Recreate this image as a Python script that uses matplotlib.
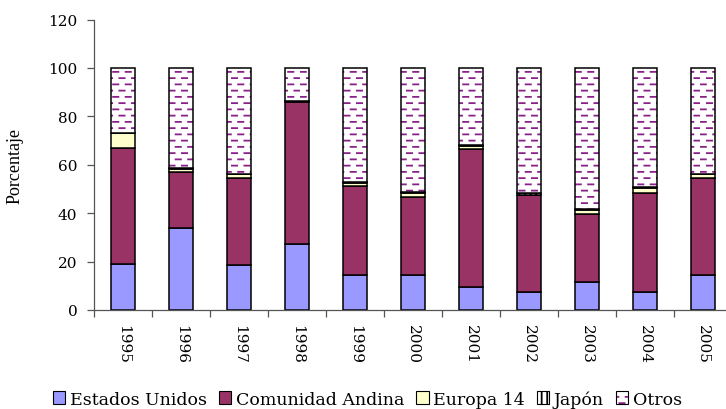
import warnings

import numpy as np
import matplotlib
matplotlib.use("Agg")
import matplotlib.pyplot as plt
import matplotlib.hatch as mhatch
from matplotlib.path import Path
from matplotlib.patches import Patch
from matplotlib.legend_handler import HandlerTuple

warnings.filterwarnings("ignore", category=matplotlib.MatplotlibDeprecationWarning)

years = ["1995", "1996", "1997", "1998", "1999", "2000",
         "2001", "2002", "2003", "2004", "2005"]
estados_unidos = [19.2, 34.0, 18.7, 27.4, 14.5, 14.5, 9.5, 7.6, 11.5, 7.6, 14.5]
comunidad_andina = [47.6, 23.2, 35.8, 58.6, 36.7, 32.1, 56.9, 39.8, 28.3, 40.8, 40.1]
europa_14 = [6.2, 1.2, 1.5, 0.3, 1.1, 1.8, 1.4, 0.3, 1.7, 2.1, 1.4]
japon = [0.3, 0.4, 0.3, 0.2, 0.6, 0.3, 0.3, 0.5, 0.3, 0.3, 0.4]
otros = [26.7, 41.2, 43.7, 13.5, 47.1, 51.3, 31.9, 51.8, 58.2, 49.2, 43.6]

C_US = "#9999FF"
C_CA = "#993366"
C_EU = "#FFFFCC"
C_DASH = "#882288"


# staggered short dashes, like the old spreadsheet fill pattern
class DashHatch(mhatch.HatchPatternBase):
    def __init__(self, hatch, density):
        self.rows = 16 if "d" in hatch else 0
        self.cols = 8
        self.num_vertices = self.rows * self.cols * 2

    def set_vertices_and_codes(self, vertices, codes):
        k = 0
        for r in range(self.rows):
            y = (r + 0.5) / self.rows
            off = 0.5 if r % 2 else 0.0
            for c in range(self.cols):
                x0 = (c + off + 0.05) / self.cols
                vertices[k] = (x0, y)
                vertices[k + 1] = (x0 + 0.42 / self.cols, y)
                codes[k] = Path.MOVETO
                codes[k + 1] = Path.LINETO
                k += 2


mhatch._hatch_types.append(DashHatch)
plt.rcParams["hatch.linewidth"] = 1.3

fig = plt.figure(figsize=(7.26, 4.10), dpi=100)
ax = fig.add_axes([94 / 726, 1 - 311 / 410, (732 - 94) / 726, (311 - 20.6) / 410])

x = np.arange(len(years))
w = 0.41
ekw = dict(edgecolor="black", linewidth=1.1)
bottom = np.zeros(len(years))
ax.bar(x, estados_unidos, w, bottom=bottom, color=C_US, **ekw)
bottom += estados_unidos
ax.bar(x, comunidad_andina, w, bottom=bottom, color=C_CA, **ekw)
bottom += comunidad_andina
ax.bar(x, europa_14, w, bottom=bottom, color=C_EU, **ekw)
bottom += europa_14
ax.bar(x, japon, w, bottom=bottom, color="white", hatch="|||", **ekw)
bottom += japon
ax.bar(x, otros, w, bottom=bottom, color="white", edgecolor=C_DASH,
       linewidth=0, hatch="d")
ax.bar(x, otros, w, bottom=bottom, fill=False, **ekw)

ax.set_xlim(-0.5, len(years) - 0.5)
ax.set_ylim(0, 120)
ax.set_yticks(range(0, 121, 20))
ax.set_xticks(x)
ax.set_xticklabels(years, rotation=270, ha="center", va="top",
                   family="DejaVu Serif", fontsize=11)
ax.set_xticks(np.arange(-0.5, len(years), 1.0), minor=True)
ax.tick_params(axis="x", which="major", length=0, pad=10)
ax.tick_params(axis="x", which="minor", length=5, width=0.9, color="#555555",
               direction="out")
ax.tick_params(axis="y", length=5, width=0.9, color="#555555", pad=7)
for t in ax.get_yticklabels():
    t.set_family("DejaVu Serif")
    t.set_fontsize(11)
for s in ("top", "right"):
    ax.spines[s].set_visible(False)
for s in ("left", "bottom"):
    ax.spines[s].set_color("#555555")
    ax.spines[s].set_linewidth(0.9)

fig.text(0.021, 1 - 166 / 410, "Porcentaje", rotation=90, ha="center",
         va="center", family="Liberation Serif", fontsize=13)

h_us = Patch(facecolor=C_US, edgecolor="black", linewidth=0.8)
h_ca = Patch(facecolor=C_CA, edgecolor="black", linewidth=0.8)
h_eu = Patch(facecolor=C_EU, edgecolor="black", linewidth=0.8)
h_jp = Patch(facecolor="white", edgecolor="black", linewidth=0.8, hatch="|||")
h_ot = (Patch(facecolor="white", edgecolor=C_DASH, linewidth=0, hatch="d"),
        Patch(fill=False, edgecolor="black", linewidth=0.8))
fig.legend([h_us, h_ca, h_eu, h_jp, h_ot],
           ["Estados Unidos", "Comunidad Andina", "Europa 14", "Japón", "Otros"],
           handler_map={tuple: HandlerTuple(ndivide=1, pad=0)},
           loc="center", bbox_to_anchor=(0.506, 1 - 400 / 410), ncol=5,
           frameon=False, handlelength=0.72, handleheight=0.72,
           handletextpad=0.25, columnspacing=0.7, borderpad=0,
           prop={"family": "DejaVu Serif", "size": 12.5})

fig.savefig("out.png", dpi=100)
